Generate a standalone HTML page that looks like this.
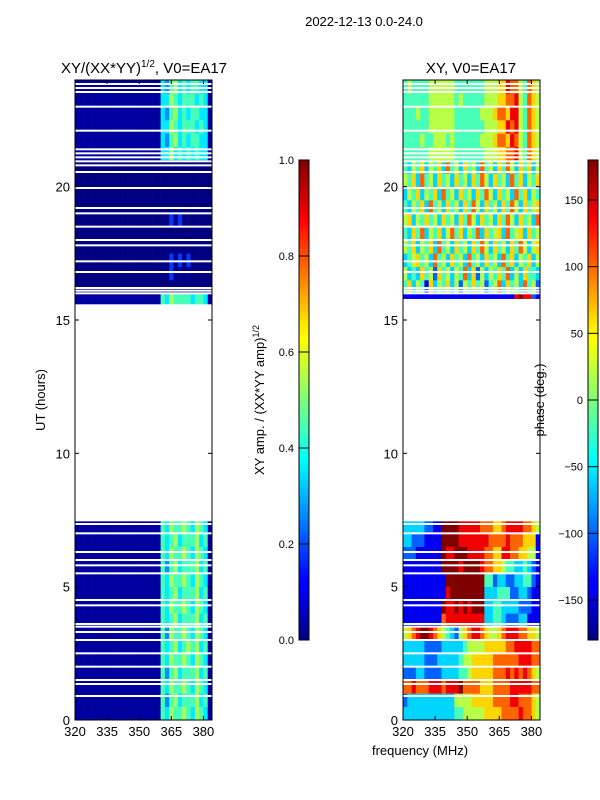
<!DOCTYPE html>
<html><head><meta charset="utf-8">
<style>
html,body{margin:0;padding:0;background:#fff;}
svg{display:block;font-family:"Liberation Sans","DejaVu Sans",sans-serif;}
</style></head>
<body>
<svg id="fig" width="600" height="800" viewBox="0 0 600 800" xmlns="http://www.w3.org/2000/svg">
<defs>
<linearGradient id="jet" x1="0" y1="1" x2="0" y2="0">
<stop offset="0" stop-color="#00007f"/><stop offset="0.11" stop-color="#0000ff"/>
<stop offset="0.125" stop-color="#0000ff"/><stop offset="0.34" stop-color="#00dcff"/>
<stop offset="0.375" stop-color="#00ffff"/><stop offset="0.5" stop-color="#7dff7a"/>
<stop offset="0.625" stop-color="#ffff00"/><stop offset="0.66" stop-color="#ffe500"/>
<stop offset="0.875" stop-color="#ff0000"/><stop offset="1" stop-color="#7f0000"/>
</linearGradient>
</defs>
<text x="364" y="26" font-size="13" text-anchor="middle">2022-12-13 0.0-24.0</text>
<text x="144" y="73" font-size="15" text-anchor="middle">XY/(XX*YY)<tspan font-size="10" dy="-6">1/2</tspan><tspan dy="6">, V0=EA17</tspan></text>
<text x="471" y="73" font-size="15" text-anchor="middle">XY, V0=EA17</text>
<text transform="translate(45,400) rotate(-90)" font-size="13" text-anchor="middle">UT (hours)</text>
<text x="420" y="755" font-size="13" text-anchor="middle">frequency (MHz)</text>
<text transform="translate(264,400) rotate(-90)" font-size="13" text-anchor="middle">XY amp. / (XX*YY amp)<tspan font-size="9" dy="-5">1/2</tspan></text>
<text transform="translate(544,400) rotate(-90)" font-size="13" text-anchor="middle">phase (deg.)</text>
<g id="left"></g>
<g id="right"></g>
<g id="cb1"></g>
<g id="cb2"></g>
</svg>
<script>
// ---- data ----
const freqMin = 320, freqMax = 384;
const timeMin = 0, timeMax = 24;
const xTicks = [320, 335, 350, 365, 380];
const yTicks = [0, 5, 10, 15, 20];
const ampTicks = [0.0, 0.2, 0.4, 0.6, 0.8, 1.0];
const phaseTicks = [-150, -100, -50, 0, 50, 100, 150];
const ampRanges = [[0, 7.45], [15.6, 24]];
const phaseRanges = [[0, 7.45], [15.8, 24]];
const gapTimes = [0.9, 1.35, 1.5, 2.0, 2.5, 3.0, 3.3, 3.5, 3.6, 4.3, 4.5, 5.5, 5.8, 6.0, 6.3, 7.0, 7.35,
  16.0, 16.1, 16.2, 16.8, 17.2, 17.8, 18.0, 18.5, 19.0, 19.2, 19.95, 20.55, 20.8, 20.95, 21.1, 21.25, 21.4, 22.1, 23.0, 23.55, 23.7, 23.85];
// amplitude, low block: 0.5 h rows starting at 0 h; 32 channels of 2 MHz
const ampLow = [
"11111111111111111111546556546541","11111111111111111111535645556451",
"11111111111111111111546556546541","11111111111111111111535645556451",
"11111111111111111111546556546541","11111111111111111111545645656451",
"11111111111111111111536556546541","11111111111111111111545645556451",
"11111111111111111111546556546541","11111111111111111111545645556451",
"11111111111111111111546556546541","11111111111111111111535645556451",
"11111111111111111111546556546541","11111111111111111111545645556451",
"11111111111111111111546556546541"];
// amplitude, high block: 0.5 h rows starting at 15.5 h
const ampHigh = [
"11111111111111111111546555545541","00000000000000000000000000000000",
"00000000000000000000002010100000","00000000000000000000002020200000",
"00000000000000000000000000000000","00000000000000000000000000000000",
"00000000000000000000002020000000","00000000000000000000000000000000",
"00000000000000000000000000000000","00000000000000000000000000000000",
"00000000000000000000000000000000","11111111111111111111446454545441",
"11111111111111111111435645455441","11111111111111111111446545554541",
"11111111111111111111435645455441","11111111111111111111446545554541",
"11111111111111111111435645455441"];
// phase, low block from 0 h; digit d -> -180 + d*40 deg
const phaseLow = [
"33333333333344555556666777787765","23333333333355556666677778877765",
"77877788878889777766677778888877","22233222233334456666677787878765",
"33333222333334556666677777788877","33333222233333455556666677888877",
"56789987654325678876556788877665","11111111178888888883344322233111",
"11111111198898989993344333322211","11111111118999999993334442233211",
"11111111119999999994423322334421","11111111199998999987766544334321",
"22211111198899988887766887766551","33222111199998888888777787776661",
"33333221199998888877766788887765"];
// phase, high block from 15.5 h
const phaseHigh = [
"11111111111111111111111111898821","46354163546352546452457364537452",
"53436452645354736253546473536443","34564537453645374536453746354635",
"54635463745364536475364536475356","43647354635746354736456374563645",
"56354645364536475364536475364537","43546374536453647536453647536456",
"35463546374536453647536453746354","54637453645364536475364537463546",
"43546354637453645374536475364635","44444455555544444445556677854765",
"44445445554544444455567768754765","44444455555544444445556687854765",
"44454455555544444455567768854765","44444455555545444445556677854765",
"45444455555544444445556687754765"];

// ---- scales ----
const panels = {left:{x0:75,x1:212}, right:{x0:403,x1:540}};
const yTop = 80, yBot = 720;
function xScale(p, f){ return p.x0 + (f - freqMin) / (freqMax - freqMin) * (p.x1 - p.x0); }
function yScale(t){ return yBot - (t - timeMin) / (timeMax - timeMin) * (yBot - yTop); }
function jet(v){
  v = Math.max(0, Math.min(1, v));
  function c(x){ return Math.round(255*Math.max(0, Math.min(1, x))); }
  const r = c(1.5 - Math.abs(4*v - 3)), g = c(1.5 - Math.abs(4*v - 2)), b = c(1.5 - Math.abs(4*v - 1));
  return `rgb(${r},${g},${b})`;
}
const NS = "http://www.w3.org/2000/svg";
function mk(tag, attrs, parent){ const e = document.createElementNS(NS, tag); for (const k in attrs) e.setAttribute(k, attrs[k]); parent.appendChild(e); return e; }

function drawBlock(g, p, grid, start, ranges, valFn){
  grid.forEach((row, ri) => {
    const nc = row.length, df = (freqMax - freqMin) / nc;
    const t0 = start + ri * 0.5, t1 = t0 + 0.5;
    let inR = null;
    for (const r of ranges) { const a = Math.max(t0, r[0]), b = Math.min(t1, r[1]); if (b > a) inR = [a, b]; }
    if (!inR) return;
    for (let ci = 0; ci < nc; ci++) {
      const xa = xScale(p, freqMin + ci*df), xb = xScale(p, freqMin + (ci+1)*df);
      const cell = mk('rect', {x: xa, y: yScale(inR[1]), width: xb - xa + 0.3, height: yScale(inR[0]) - yScale(inR[1]) + 0.3, fill: jet(valFn(+row[ci]))}, g);
      
      
    }
  });
}
function drawPanel(gid, p, low, high, ranges, valFn){
  const g = document.getElementById(gid);
  drawBlock(g, p, low, 0, ranges, valFn);
  drawBlock(g, p, high, 15.5, ranges, valFn);
  gapTimes.forEach(t => {
    const gl = mk('rect', {x: p.x0, y: yScale(t) - 1, width: p.x1 - p.x0, height: 2, fill: '#fff'}, g);
    
    
  });
  const fr = mk('rect', {x: p.x0, y: yTop, width: p.x1 - p.x0, height: yBot - yTop, fill: 'none', stroke: '#000', 'stroke-width': 1}, g);
  
  
  xTicks.forEach(f => {
    const x = xScale(p, f);
    mk('line', {x1: x, y1: yBot, x2: x, y2: yBot - 4, stroke: '#000'}, g);
    mk('line', {x1: x, y1: yTop, x2: x, y2: yTop + 4, stroke: '#000'}, g);
    const tl = mk('text', {x: x, y: yBot + 16, 'font-size': 13, 'text-anchor': 'middle'}, g);
    tl.textContent = f;
    
    
  });
  yTicks.forEach(t => {
    const y = yScale(t);
    mk('line', {x1: p.x0, y1: y, x2: p.x0 + 4, y2: y, stroke: '#000'}, g);
    mk('line', {x1: p.x1, y1: y, x2: p.x1 - 4, y2: y, stroke: '#000'}, g);
    const tl = mk('text', {x: p.x0 - 5, y: y + 5, 'font-size': 13, 'text-anchor': 'end'}, g);
    tl.textContent = t;
    
    
  });
}
drawPanel('left', panels.left, ampLow, ampHigh, ampRanges, d => (d <= 1 ? d * 0.03 : d / 9 * 0.8));
drawPanel('right', panels.right, phaseLow, phaseHigh, phaseRanges, d => (d * 40) / 360);

function drawColorbar(gid, x, vmin, vmax, ticks, fmt){
  const g = document.getElementById(gid);
  const y0 = 160, y1 = 640, w = 10;
  const bar = mk('rect', {x: x, y: y0, width: w, height: y1 - y0, fill: 'url(#jet)', stroke: '#000', 'stroke-width': 1}, g);
  
  
  ticks.forEach(v => {
    const y = y1 - (v - vmin) / (vmax - vmin) * (y1 - y0);
    mk('line', {x1: x, y1: y, x2: x + w, y2: y, stroke: '#000'}, g);
    const tl = mk('text', {x: x - 5, y: y + 4, 'font-size': 11, 'text-anchor': 'end'}, g);
    tl.textContent = fmt(v);
    
    
  });
}
drawColorbar('cb1', 299, 0, 1, ampTicks, v => v.toFixed(1));
drawColorbar('cb2', 588, -180, 180, phaseTicks, v => (v < 0 ? '\u2212' + (-v) : '' + v));
</script>
</body></html>
